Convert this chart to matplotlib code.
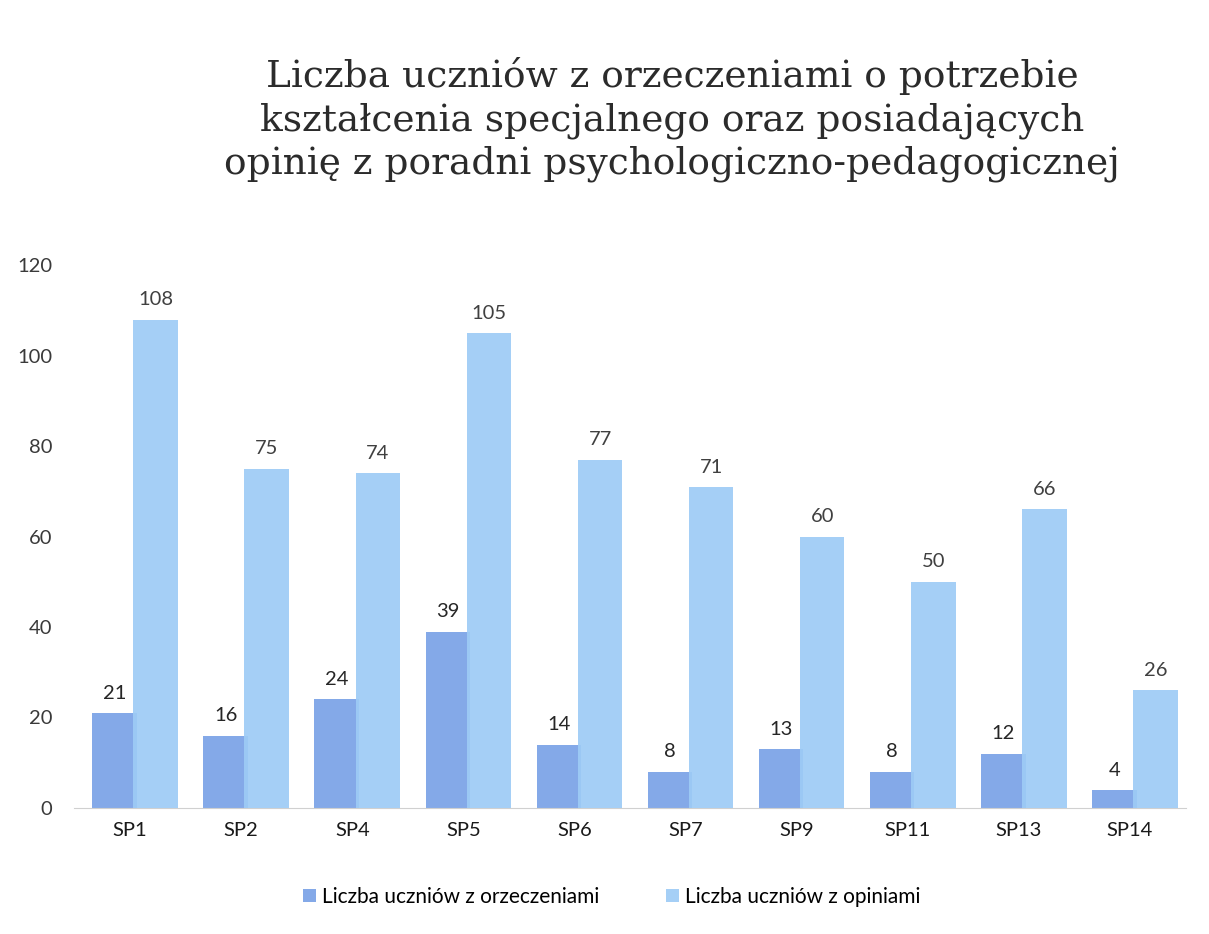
import matplotlib.pyplot as plt
import numpy as np

categories = ["SP1", "SP2", "SP4", "SP5", "SP6", "SP7", "SP9", "SP11", "SP13", "SP14"]
orzeczenia = [21, 16, 24, 39, 14, 8, 13, 8, 12, 4]
opinie = [108, 75, 74, 105, 77, 71, 60, 50, 66, 26]
series_names = ["Liczba uczniów z orzeczeniami", "Liczba uczniów z opiniami"]
title = ("Liczba uczniów z orzeczeniami o potrzebie\n"
         "kształcenia specjalnego oraz posiadających\n"
         "opinię z poradni psychologiczno-pedagogicznej")

plt.rcParams['font.family'] = ['Lato', 'DejaVu Sans']

dark = "#84a9e8"
light = "#9ecbf6"

fig = plt.figure(figsize=(12.09, 9.34), dpi=100)
ax = fig.add_axes([0.0616, 0.135, 0.919, 0.581])

x = np.arange(len(categories))
w = 0.40
off1, off2 = -0.14, 0.23
b1 = ax.bar(x + off1, orzeczenia, w, color=dark, label=series_names[0], zorder=2)
b2 = ax.bar(x + off2, opinie, w, color=light, alpha=0.92, label=series_names[1], zorder=3)

for xi, v in zip(x, orzeczenia):
    ax.text(xi + off1, v + 2.5, str(v), ha='center', va='bottom', fontsize=14.5, color='#262626')
for xi, v in zip(x, opinie):
    ax.text(xi + off2, v + 2.5, str(v), ha='center', va='bottom', fontsize=14.5, color='#404040')

ax.set_xlim(-0.5, len(categories) - 0.5)
ax.set_ylim(0, 120)
ax.set_yticks(range(0, 121, 20))
ax.set_xticks(x)
ax.set_xticklabels(categories, fontsize=14.5, color='#1a1a1a')
ax.tick_params(axis='y', labelsize=14.5, labelcolor='#3a3a3a', length=0, pad=16)
ax.tick_params(axis='x', length=0, pad=10)
for s in ['top', 'right', 'left']:
    ax.spines[s].set_visible(False)
ax.spines['bottom'].set_color('#d0d0d0')

fig.text(0.556, 0.872, title, ha='center', va='center', fontsize=27,
         family=['DejaVu Serif'], color='#2b2b2b', linespacing=1.25)

fig.legend(handles=[b1, b2], labels=series_names, loc='center', bbox_to_anchor=(0.506, 0.04),
           ncol=2, frameon=False, fontsize=15, handlelength=0.6, handleheight=0.6,
           handletextpad=0.3, columnspacing=3.2)

fig.savefig("out.png", dpi=100, facecolor='white')
